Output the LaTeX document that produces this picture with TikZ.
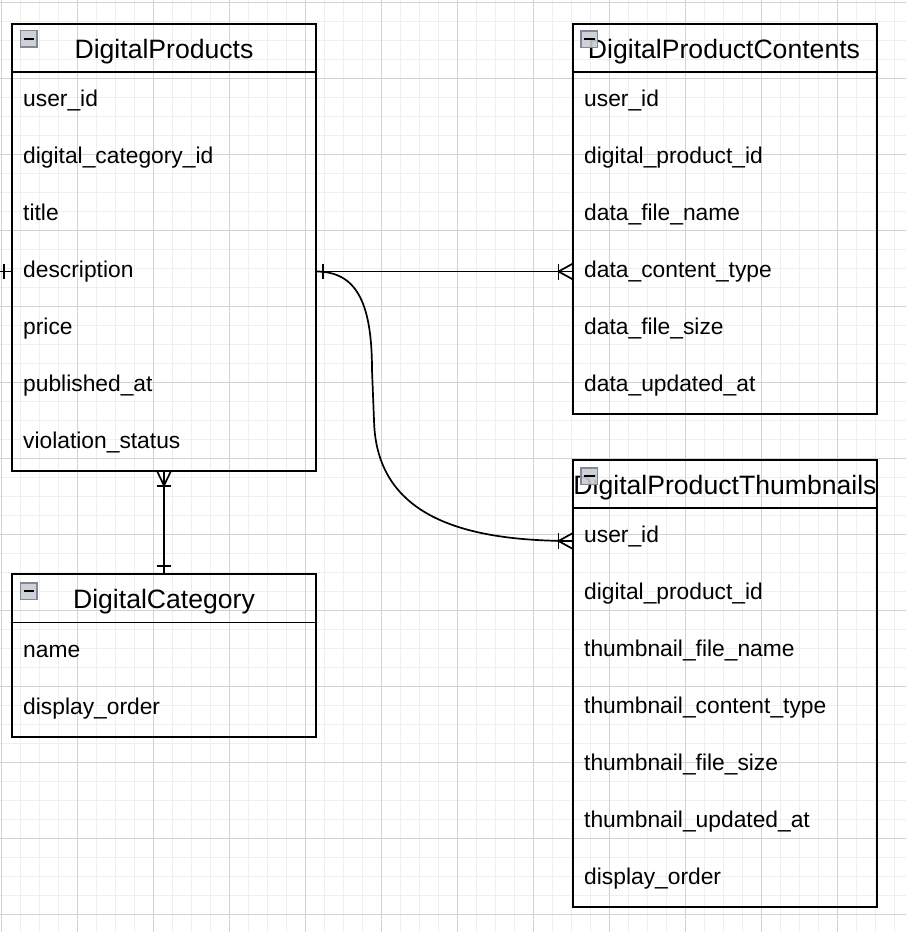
\documentclass[tikz,border=0pt]{standalone}
\usepackage{fontspec}
\setmainfont{Liberation Sans}
\definecolor{gridminor}{HTML}{EFEFEF}
\definecolor{gridmajor}{HTML}{D2D2D2}
\definecolor{iconborder}{HTML}{808898}
\definecolor{iconfill}{HTML}{C9CCD3}
\begin{document}
\begin{tikzpicture}[x=1pt,y=-1pt,
  tbl/.style={draw=black,line width=1.8pt,inner sep=0pt,outer sep=0pt,anchor=north west,minimum width=304pt},
  sepline/.style={line width=1.8pt,black},
  rowtxt/.style={anchor=base west,inner sep=0pt,font=\fontsize{22.8}{27}\selectfont},
  hdrtxt/.style={anchor=base,inner sep=0pt,font=\fontsize{26.6}{31}\selectfont},
  icon/.style={draw=iconborder,fill=iconfill,fill opacity=0.9,line width=1.3pt,minimum size=16.5pt,inner sep=0pt,outer sep=0pt,anchor=north west},
  conn/.style={line width=1.7pt,black},
  gminor/.style={draw=gridminor,line width=1pt},
  gmajor/.style={draw=gridmajor,line width=1pt}]
\useasboundingbox (0,0) rectangle (906,932);
\fill[white] (0,0) rectangle (906,932);
% grid
\foreach \i in {0,...,47} {\draw[gminor] ({1+19*\i},0) -- ({1+19*\i},932);}
\foreach \i in {0,...,49} {\draw[gminor] (0,{2+19*\i}) -- (906,{2+19*\i});}
\foreach \i in {0,...,11} {\draw[gmajor] ({1+76*\i},0) -- ({1+76*\i},932);}
\foreach \i in {0,...,12} {\draw[gmajor] (0,{2+76*\i}) -- (906,{2+76*\i});}

% DigitalProducts
\node[tbl,minimum height=447pt] (dp) at (12,24) {};
\draw[sepline] (12,72) -- (316,72);
\node[hdrtxt] (dpt) at (164,58) {DigitalProducts};
\node[icon] (dpi) at (20.5,30.5) {};
\draw[line width=2pt] (dpi.west) ++(3,0) -- ++(10.5,0);
\node[rowtxt] (dp1) at (23,106.5) {user\_id};
\node[rowtxt] (dp2) at (23,163.5) {digital\_category\_id};
\node[rowtxt] (dp3) at (23,220.5) {title};
\node[rowtxt] (dp4) at (23,277.5) {description};
\node[rowtxt] (dp5) at (23,334.5) {price};
\node[rowtxt] (dp6) at (23,391.5) {published\_at};
\node[rowtxt] (dp7) at (23,448.5) {violation\_status};

% DigitalProductContents
\node[tbl,minimum height=390pt] (dpc) at (573,24) {};
\draw[sepline] (573,72) -- (877,72);
\node[hdrtxt] (dpct) at (724,58) {DigitalProductContents};
\node[icon] (dpci) at (581,31) {};
\draw[line width=2pt] (dpci.west) ++(3,0) -- ++(10.5,0);
\node[rowtxt] (dpc1) at (584,106.5) {user\_id};
\node[rowtxt] (dpc2) at (584,163.5) {digital\_product\_id};
\node[rowtxt] (dpc3) at (584,220.5) {data\_file\_name};
\node[rowtxt] (dpc4) at (584,277.5) {data\_content\_type};
\node[rowtxt] (dpc5) at (584,334.5) {data\_file\_size};
\node[rowtxt] (dpc6) at (584,391.5) {data\_updated\_at};

% DigitalProductThumbnails
\node[tbl,minimum height=447pt] (dpth) at (573,460) {};
\draw[sepline] (573,508) -- (877,508);
\node[hdrtxt] (dptht) at (725,494.5) {DigitalProductThumbnails};
\node[icon] (dpthi) at (581,468) {};
\draw[line width=2pt] (dpthi.west) ++(3,0) -- ++(10.5,0);
\node[rowtxt] (dpth1) at (584,542.5) {user\_id};
\node[rowtxt] (dpth2) at (584,599.5) {digital\_product\_id};
\node[rowtxt] (dpth3) at (584,656.5) {thumbnail\_file\_name};
\node[rowtxt] (dpth4) at (584,713.5) {thumbnail\_content\_type};
\node[rowtxt] (dpth5) at (584,770.5) {thumbnail\_file\_size};
\node[rowtxt] (dpth6) at (584,827.5) {thumbnail\_updated\_at};
\node[rowtxt] (dpth7) at (584,884.5) {display\_order};

% DigitalCategory
\node[tbl,minimum height=163pt] (dc) at (12,574) {};
\draw[sepline] (12,622.5) -- (316,622.5);
\node[hdrtxt] (dct) at (164,608.5) {DigitalCategory};
\node[icon] (dci) at (20.5,583) {};
\draw[line width=2pt] (dci.west) ++(3,0) -- ++(10.5,0);
\node[rowtxt] (dc1) at (23,657) {name};
\node[rowtxt] (dc2) at (23,714) {display\_order};

% connector end points
\coordinate (dpR) at (316,271.5);
\coordinate (dpcL) at (573,271.5);
\coordinate (dpthL) at (573,541);
\coordinate (dpB) at (164,471);
\coordinate (dcT) at (164,574);
\coordinate (dpL) at (12,271.5);
\coordinate (stub) at (0,271.5);

% DigitalProducts -> DigitalProductContents
\draw[conn] (dpR) -- (dpcL);
\draw[conn] (dpR) ++(7,-7.5) -- ++(0,15);
\draw[conn] (dpcL) ++(0,-8) -- ++(-14.5,8) -- ++(14.5,8);
\draw[conn] (dpcL) ++(-14.5,-8) -- ++(0,16);

% DigitalProducts -> DigitalProductThumbnails
\draw[conn] (dpR) .. controls (355,271.5) and (372,300) .. (372,370) -- (374,420) .. controls (376,520) and (470,541) .. (dpthL);
\draw[conn] (dpthL) ++(0,-8) -- ++(-14.5,8) -- ++(14.5,8);
\draw[conn] (dpthL) ++(-14.5,-8) -- ++(0,16);

% DigitalProducts -> DigitalCategory
\draw[conn] (dpB) -- (dcT);
\draw[conn] (dpB) ++(-7,0) -- ++(7,14.5) -- ++(7,-14.5);
\draw[conn] (dpB) ++(-7,15) -- ++(14,0);
\draw[conn] (dcT) ++(-7,-8) -- ++(14,0);

% stub on the left
\draw[conn] (stub) -- (dpL);
\draw[conn] (stub) ++(4,-7.5) -- ++(0,15);
\end{tikzpicture}
\end{document}
